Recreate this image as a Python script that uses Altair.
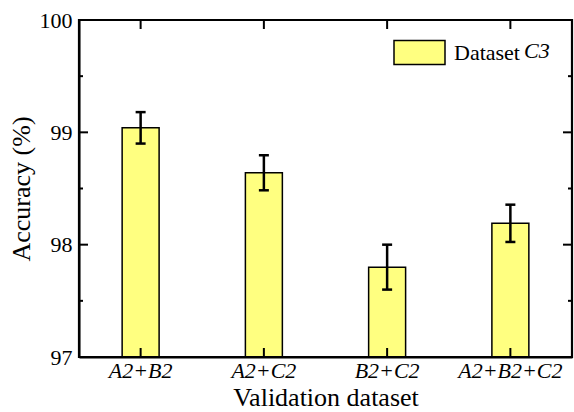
import altair as alt
import pandas as pd

categories = ["A2+B2", "A2+C2", "B2+C2", "A2+B2+C2"]
accuracy = [99.04, 98.64, 97.80, 98.19]
errors = [0.14, 0.156, 0.20, 0.166]
y_major = [97, 98, 99, 100]
y_minor = [97.5, 98.5, 99.5]
series_name = "Dataset"

FONT = "'Times New Roman', 'Liberation Serif', serif"
W, H = 493, 337

df = pd.DataFrame({
    "cat": categories,
    "acc": accuracy,
    "lo": [a - e for a, e in zip(accuracy, errors)],
    "hi": [a + e for a, e in zip(accuracy, errors)],
    "series": [series_name] * len(categories),
})

xscale = alt.Scale(domain=categories, paddingInner=0, paddingOuter=0)
yscale = alt.Scale(domain=[97, 100], nice=False, zero=False)

x_axis = alt.Axis(title="Validation dataset", labelAngle=0, ticks=False,
                  domain=True, domainColor="black", domainWidth=2,
                  labelFontStyle="italic", labelPadding=3,
                  titlePadding=3, labelFont=FONT, labelFontSize=22, labelColor="black",
                  titleFont=FONT, titleFontSize=26, titleFontWeight="normal",
                  titleColor="black")
y_axis = alt.Axis(values=y_major, format="d", ticks=False, grid=False,
                  domain=True, domainColor="black", domainWidth=2,
                  title="Accuracy (%)", labelPadding=7, titlePadding=5,
                  labelFont=FONT, labelFontSize=22, labelColor="black",
                  titleFont=FONT, titleFontSize=26, titleFontWeight="normal",
                  titleColor="black")

bars = alt.Chart(df).mark_bar(stroke="black", strokeWidth=1.5, opacity=1,
                              width=alt.RelativeBandSize(0.3)).encode(
    x=alt.X("cat:N", scale=xscale, sort=categories, axis=x_axis),
    y=alt.Y("acc:Q", scale=yscale, axis=y_axis),
    y2=alt.datum(97),
    color=alt.Color("series:N", scale=alt.Scale(domain=[series_name], range=["#FFFF80"]),
                    legend=alt.Legend(title=None, orient="none", legendX=314, legendY=6,
                                      symbolType="M-1,-0.47L1,-0.47L1,0.47L-1,0.47Z",
                                      symbolSize=2601, symbolStrokeColor="black",
                                      symbolStrokeWidth=1.5, symbolOpacity=1,
                                      labelOffset=8, labelFont=FONT, labelFontSize=22,
                                      labelColor="black")),
)

err_rule = alt.Chart(df).mark_rule(color="black", strokeWidth=2.5).encode(
    x=alt.X("cat:N", scale=xscale, sort=categories),
    y=alt.Y("lo:Q", scale=yscale),
    y2="hi:Q",
)
cap_lo = alt.Chart(df).mark_tick(color="black", thickness=2.5, size=10, opacity=1).encode(
    x=alt.X("cat:N", scale=xscale, sort=categories),
    y=alt.Y("lo:Q", scale=yscale),
)
cap_hi = alt.Chart(df).mark_tick(color="black", thickness=2.5, size=10, opacity=1).encode(
    x=alt.X("cat:N", scale=xscale, sort=categories),
    y=alt.Y("hi:Q", scale=yscale),
)

cat_df = pd.DataFrame({"cat": categories})
top_ticks = alt.Chart(cat_df).mark_rule(color="black", strokeWidth=2).encode(
    x=alt.X("cat:N", scale=xscale, sort=categories), y=alt.value(0), y2=alt.value(9))
bot_ticks = alt.Chart(cat_df).mark_rule(color="black", strokeWidth=2).encode(
    x=alt.X("cat:N", scale=xscale, sort=categories), y=alt.value(H), y2=alt.value(H - 9))

maj_df = pd.DataFrame({"v": y_major})
min_df = pd.DataFrame({"v": y_minor})
left_maj = alt.Chart(maj_df).mark_rule(color="black", strokeWidth=2).encode(
    y=alt.Y("v:Q", scale=yscale), x=alt.value(0), x2=alt.value(9))
left_min = alt.Chart(min_df).mark_rule(color="black", strokeWidth=2).encode(
    y=alt.Y("v:Q", scale=yscale), x=alt.value(0), x2=alt.value(4))
right_maj = alt.Chart(maj_df).mark_rule(color="black", strokeWidth=2).encode(
    y=alt.Y("v:Q", scale=yscale), x=alt.value(W), x2=alt.value(W - 9))
right_min = alt.Chart(min_df).mark_rule(color="black", strokeWidth=2).encode(
    y=alt.Y("v:Q", scale=yscale), x=alt.value(W), x2=alt.value(W - 4))

one = pd.DataFrame({"f": [0]})
frame_top = alt.Chart(one).mark_rule(color="black", strokeWidth=2.2).encode(
    x=alt.value(-1), x2=alt.value(W + 1), y=alt.value(0))
frame_bot = alt.Chart(one).mark_rule(color="black", strokeWidth=2.2).encode(
    x=alt.value(-1), x2=alt.value(W + 1), y=alt.value(H))
frame_left = alt.Chart(one).mark_rule(color="black", strokeWidth=2.2).encode(
    y=alt.value(-1), y2=alt.value(H + 1), x=alt.value(0))
frame_right = alt.Chart(one).mark_rule(color="black", strokeWidth=2.2).encode(
    y=alt.value(-1), y2=alt.value(H + 1), x=alt.value(W))

c3_text = alt.Chart(pd.DataFrame({"t": ["C3"]})).mark_text(
    font=FONT, fontSize=22, fontStyle="italic", align="left", baseline="middle",
    color="black").encode(text="t:N", x=alt.value(445), y=alt.value(31))

chart = alt.layer(
    bars, top_ticks, bot_ticks, left_maj, left_min, right_maj, right_min,
    err_rule, cap_lo, cap_hi, frame_top, frame_bot, frame_left, frame_right, c3_text
).properties(
    width=W, height=H,
    autosize=alt.AutoSizeParams(type="none"),
    padding={"left": 79, "top": 20, "right": 2, "bottom": 55},
    background="white",
).configure_view(strokeWidth=0)

chart.save("out.html", embed_options={"renderer": "svg", "actions": False})
